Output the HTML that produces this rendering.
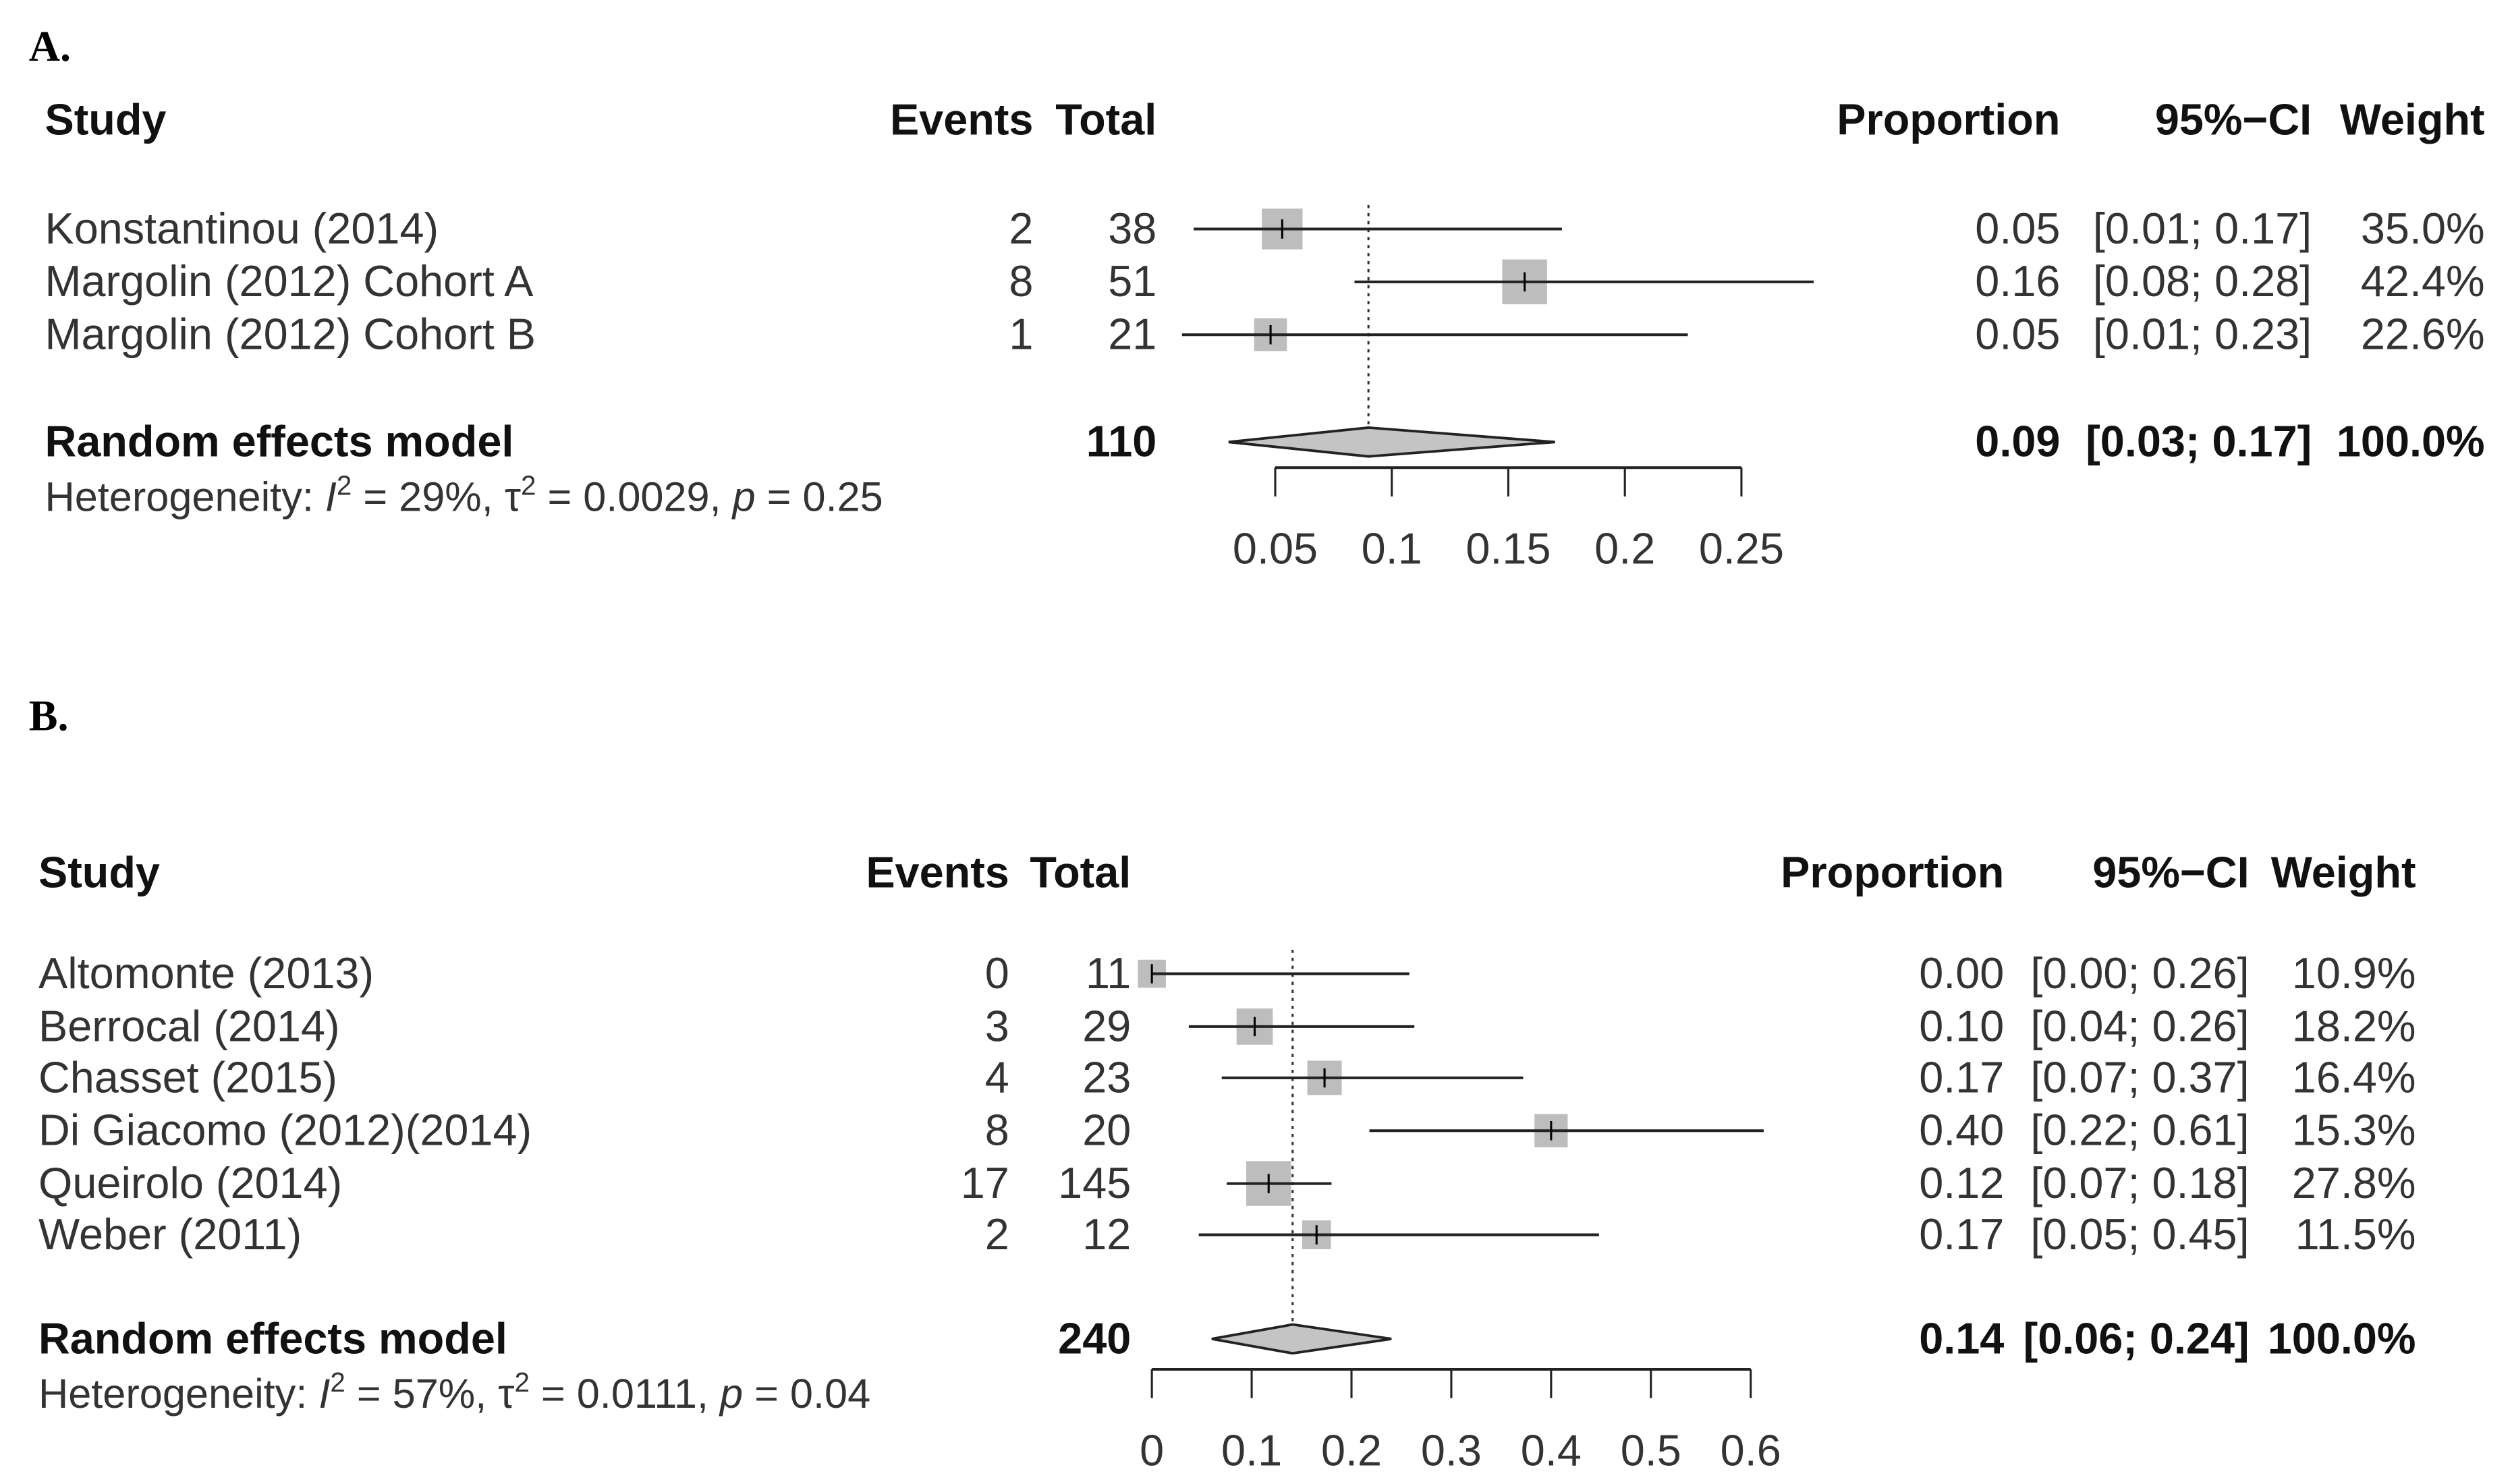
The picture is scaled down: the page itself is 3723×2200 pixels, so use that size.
<!DOCTYPE html>
<html><head><meta charset="utf-8"><style>
html,body{margin:0;padding:0;background:#fff}
svg{display:block}
text{font-family:"Liberation Sans",Arial,sans-serif;fill:#333}
.b{font-weight:bold;fill:#111}
.lbl{font-family:"Liberation Serif",serif;font-weight:bold;fill:#000}
</style></head><body>
<svg id="fig" xmlns="http://www.w3.org/2000/svg" width="3723" height="2200" viewBox="0 0 1568 926.6" preserveAspectRatio="none"></svg>
<script>
// Panel A data
const studiesA = ["Konstantinou (2014)", "Margolin (2012) Cohort A", "Margolin (2012) Cohort B"];
const eventsA = [2, 8, 1];
const totalsA = [38, 51, 21];
const propA = [0.053, 0.157, 0.048];
const lowA = [0.015, 0.084, 0.010];
const highA = [0.173, 0.281, 0.227];
const weightA = [35.0, 42.4, 22.6];
const propTextA = ["0.05", "0.16", "0.05"];
const ciTextA = ["[0.01; 0.17]", "[0.08; 0.28]", "[0.01; 0.23]"];
const pooledA = [0.09, 0.03, 0.17];
const ticksA = [0.05, 0.1, 0.15, 0.2, 0.25];
const tickLabelsA = ["0.05", "0.1", "0.15", "0.2", "0.25"];
// Panel B data
const studiesB = ["Altomonte (2013)", "Berrocal (2014)", "Chasset (2015)", "Di Giacomo (2012)(2014)", "Queirolo (2014)", "Weber (2011)"];
const eventsB = [0, 3, 4, 8, 17, 2];
const totalsB = [11, 29, 23, 20, 145, 12];
const propB = [0.0, 0.103, 0.173, 0.40, 0.117, 0.165];
const lowB = [0.0, 0.037, 0.07, 0.218, 0.075, 0.047];
const highB = [0.258, 0.263, 0.372, 0.613, 0.18, 0.448];
const weightB = [10.9, 18.2, 16.4, 15.3, 27.8, 11.5];
const propTextB = ["0.00", "0.10", "0.17", "0.40", "0.12", "0.17"];
const ciTextB = ["[0.00; 0.26]", "[0.04; 0.26]", "[0.07; 0.37]", "[0.22; 0.61]", "[0.07; 0.18]", "[0.05; 0.45]"];
const pooledB = [0.141, 0.06, 0.24];
const ticksB = [0, 0.1, 0.2, 0.3, 0.4, 0.5, 0.6];
const tickLabelsB = ["0", "0.1", "0.2", "0.3", "0.4", "0.5", "0.6"];

const NS = "http://www.w3.org/2000/svg";
const svg = document.getElementById("fig");
const FS = 27.3;
function el(tag, attrs, txt) {
  const e = document.createElementNS(NS, tag);
  for (const k in attrs) e.setAttribute(k, attrs[k]);
  if (txt !== undefined) e.textContent = txt;
  svg.appendChild(e);
  return e;
}
function txt(x, y, s, anchor, cls, name) {
  const t = el("text", {x: x, y: y, "font-size": FS, "text-anchor": anchor || "start", "class": cls || ""}, s);
  
  
  return t;
}

function panel(P) {
  const xs = v => P.x0 + (v - P.v0) * P.k;
  txt(P.lblX, P.lblY, P.label, "start", "lbl", "panel-label").setAttribute("font-size", 27);
  const h = P.hy + 9;
  txt(P.cStudy, h, "Study", "start", "b", "study-header");
  txt(P.cEv, h, "Events", "end", "b", "events-header");
  txt(P.cTot, h, "Total", "end", "b", "total-header");
  txt(P.cProp, h, "Proportion", "end", "b", "proportion-header");
  txt(P.cCI, h, "95%\u2212CI", "end", "b", "ci-header");
  txt(P.cW, h, "Weight", "end", "b", "weight-header");
  const ref = el("line", {x1: xs(P.pooled[0]), x2: xs(P.pooled[0]), y1: P.rows[0] - 15, y2: P.ry - 8, stroke: "#333", "stroke-width": 1.3, "stroke-dasharray": "2,3"});
  
  
  for (let i = 0; i < P.studies.length; i++) {
    const y = P.rows[i];
    txt(P.cStudy, y + 9, P.studies[i], "start", "", "study-name");
    txt(P.cEv, y + 9, String(P.events[i]), "end", "", "events-value");
    txt(P.cTot, y + 9, String(P.totals[i]), "end", "", "total-value");
    txt(P.cProp, y + 9, P.propText[i], "end", "", "proportion-value");
    txt(P.cCI, y + 9, P.ciText[i], "end", "", "ci-value");
    txt(P.cW, y + 9, P.weight[i].toFixed(1) + "%", "end", "", "weight-value");
    const s = P.sq * Math.sqrt(P.weight[i]);
    const r = el("rect", {x: xs(P.prop[i]) - s / 2, y: y - s / 2, width: s, height: s, fill: "#bdbdbd"});
    
    
    const ln = el("line", {x1: xs(P.low[i]), x2: xs(P.high[i]), y1: y, y2: y, stroke: "#222", "stroke-width": 1.7});
    
    
    const tk = el("line", {x1: xs(P.prop[i]), x2: xs(P.prop[i]), y1: y - 6, y2: y + 6, stroke: "#000", "stroke-width": 1.3});
    
    
  }
  const ry = P.ry;
  txt(P.cStudy, ry + 9, "Random effects model", "start", "b", "random-effects-label");
  txt(P.cTot, ry + 9, String(P.totalN), "end", "b", "pooled-total");
  txt(P.cProp, ry + 9, P.pooledText[0], "end", "b", "pooled-proportion");
  txt(P.cCI, ry + 9, P.pooledText[1], "end", "b", "pooled-ci");
  txt(P.cW, ry + 9, "100.0%", "end", "b", "pooled-weight");
  const d = el("polygon", {points: `${xs(P.pooled[1])},${ry} ${xs(P.pooled[0])},${ry - 9} ${xs(P.pooled[2])},${ry} ${xs(P.pooled[0])},${ry + 9}`, fill: "#c4c4c4", stroke: "#222", "stroke-width": 1.6});
  
  
  const het = el("text", {x: P.cStudy, y: ry + 43, "font-size": 25.8});
  
  
  het.innerHTML = 'Heterogeneity: <tspan font-style="italic">I</tspan><tspan dy="-10" font-size="17">2</tspan><tspan dy="10"> = ' + P.het[0] + ', \u03c4</tspan><tspan dy="-10" font-size="17">2</tspan><tspan dy="10"> = ' + P.het[1] + ', </tspan><tspan font-style="italic">p</tspan> = ' + P.het[2];
  const ax = el("line", {x1: xs(P.ticks[0]), x2: xs(P.ticks[P.ticks.length - 1]), y1: P.ay, y2: P.ay, stroke: "#222", "stroke-width": 1.7});
  
  
  for (let i = 0; i < P.ticks.length; i++) {
    const x = xs(P.ticks[i]);
    const t = el("line", {x1: x, x2: x, y1: P.ay, y2: P.ay + 18, stroke: "#222", "stroke-width": 1.3});
    
    
    txt(x, P.ay + 60, P.tickLabels[i], "middle", "", "x-tick-label");
  }
}

panel({label: "A.", lblX: 18, lblY: 38, hy: 75, cStudy: 28, cEv: 645, cTot: 722, cProp: 1286, cCI: 1443, cW: 1551,
  studies: studiesA, events: eventsA, totals: totalsA, prop: propA, low: lowA, high: highA, weight: weightA,
  propText: propTextA, ciText: ciTextA, pooled: pooledA, pooledText: ["0.09", "[0.03; 0.17]"], totalN: 110,
  rows: [143, 176, 209], ry: 276, ay: 292, x0: 796, v0: 0.05, k: 1455, sq: 4.3,
  ticks: ticksA, tickLabels: tickLabelsA, het: ["29%", "0.0029", "0.25"]});

panel({label: "B.", lblX: 18, lblY: 456, hy: 545, cStudy: 24, cEv: 630, cTot: 706, cProp: 1251, cCI: 1404, cW: 1508,
  studies: studiesB, events: eventsB, totals: totalsB, prop: propB, low: lowB, high: highB, weight: weightB,
  propText: propTextB, ciText: ciTextB, pooled: pooledB, pooledText: ["0.14", "[0.06; 0.24]"], totalN: 240,
  rows: [608, 641, 673, 706, 739, 771], ry: 836, ay: 855, x0: 719, v0: 0, k: 623, sq: 5.3,
  ticks: ticksB, tickLabels: tickLabelsB, het: ["57%", "0.0111", "0.04"]});
</script>
</body></html>
